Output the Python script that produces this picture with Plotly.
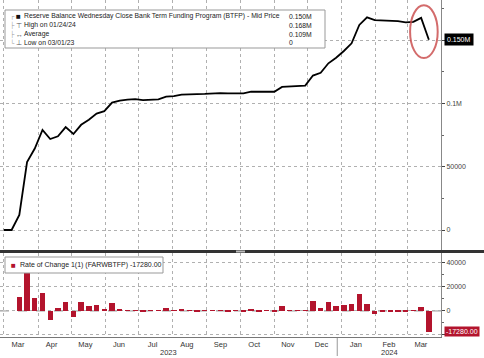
import plotly.graph_objects as go

# ---------------- data ----------------
dates = [
    "2023-03-01", "2023-03-08", "2023-03-15", "2023-03-22", "2023-03-29",
    "2023-04-05", "2023-04-12", "2023-04-19", "2023-04-26",
    "2023-05-03", "2023-05-10", "2023-05-17", "2023-05-24", "2023-05-31",
    "2023-06-07", "2023-06-14", "2023-06-21", "2023-06-28",
    "2023-07-05", "2023-07-12", "2023-07-19", "2023-07-26",
    "2023-08-02", "2023-08-09", "2023-08-16", "2023-08-23", "2023-08-30",
    "2023-09-06", "2023-09-13", "2023-09-20", "2023-09-27",
    "2023-10-04", "2023-10-11", "2023-10-18", "2023-10-25",
    "2023-11-01", "2023-11-08", "2023-11-15", "2023-11-22", "2023-11-29",
    "2023-12-06", "2023-12-13", "2023-12-20", "2023-12-27",
    "2024-01-03", "2024-01-10", "2024-01-17", "2024-01-24", "2024-01-31",
    "2024-02-07", "2024-02-14", "2024-02-21", "2024-02-28",
    "2024-03-06", "2024-03-13", "2024-03-20",
]
btfp = [
    0, 0, 11943, 53669, 64403,
    79022, 71837, 73980, 81279,
    75840, 83106, 87171, 91985, 93918,
    100645, 102150, 102950, 103400,
    102600, 102900, 103200, 105300,
    105800, 107000, 107400, 107350, 107500,
    107950, 108100, 108000, 108050,
    108000, 109300, 109200, 109300,
    109200, 113000, 113300, 114000, 114100,
    122000, 124200, 131700, 136100,
    141400, 147500, 162000, 168000, 165800,
    165500, 165300, 165000, 164100,
    164400, 167580, 150300,
]
# weekly rate of change (1 period) of the series
roc_dates = dates[1:]
roc = [b - a for a, b in zip(btfp[:-1], btfp[1:])]

top_tickvals = [0, 50000, 100000, 150000]
top_ticktext = ["0", "50000", "0.1M", ""]
bot_tickvals = [-20000, 0, 20000, 40000]
bot_ticktext = ["", "0", "20000", "40000"]

legend_rows = [
    "Reserve Balance Wednesday Close Bank Term Funding Program (BTFP) - Mid Price",
    "High on 01/24/24",
    "Average",
    "Low on 03/01/23",
]
legend_vals = ["0.150M", "0.168M", "0.109M", "0"]
roc_label = "Rate of Change 1(1) (FARWBTFP) -17280.00"

# ---------------- layout geometry ----------------
W, H = 484, 358
ML, MR, MT, MB = 0, 43, 0, 21
PW, PH = W - ML - MR, H - MT - MB


def px(x):
    return x / PW


def py(y):
    return (PH - y) / PH


FONT = "Liberation Sans"
GRID = "#b0b0b0"
RED = "#b3142d"

fig = go.Figure()
fig.add_trace(go.Scatter(x=dates, y=btfp, mode="lines",
                         line=dict(color="black", width=1.8),
                         xaxis="x", yaxis="y", showlegend=False))
fig.add_trace(go.Bar(x=roc_dates, y=roc, marker=dict(color=RED, line=dict(width=0)),
                     width=4.8 * 86400000, xaxis="x2", yaxis="y2", showlegend=False))

xrange = ["2023-02-25 12:00", "2024-03-31"]
common_x = dict(type="date", range=xrange, dtick="M1", tick0="2023-03-01",
                showgrid=True, gridcolor=GRID, griddash="dot", gridwidth=1,
                zeroline=False)

fig.update_layout(
    width=W, height=H, margin=dict(l=ML, r=MR, t=MT, b=MB),
    paper_bgcolor="white", plot_bgcolor="white",
    font=dict(family=FONT, size=7, color="#333"),
    bargap=0,
    xaxis=dict(domain=[0, 1], anchor="y", showticklabels=False, ticks="",
               **common_x),
    xaxis2=dict(domain=[0, 1], anchor="y2", matches="x", ticks="",
                tickformat="%b", ticklabelmode="period", ticklabelshift=-3,
                tickfont=dict(size=7.5, color="#333"),
                showline=True, linecolor="#777", linewidth=1,
                **common_x),
    yaxis=dict(domain=[py(250), 1], anchor="x", side="right",
               range=[-15800, 181700], tickmode="array",
               tickvals=top_tickvals, ticktext=top_ticktext,
               showgrid=True, gridcolor=GRID, griddash="dot", zeroline=False,
               ticks="outside", ticklen=3, tickcolor="#444",
               minor=dict(dtick=25000, ticks="outside", ticklen=2, tickcolor="#666",
                          showgrid=False),
               showline=True, linecolor="#888", linewidth=1,
               tickfont=dict(size=7, color="#444")),
    yaxis2=dict(domain=[0, py(253)], anchor="x2", side="right",
                range=[-21700, 48300], tickmode="array",
                tickvals=bot_tickvals, ticktext=bot_ticktext,
                showgrid=True, gridcolor=GRID, griddash="dot", zeroline=False,
                ticks="outside", ticklen=3, tickcolor="#444",
                minor=dict(dtick=10000, ticks="outside", ticklen=2, tickcolor="#666",
                           showgrid=False),
                showline=True, linecolor="#888", linewidth=1,
                tickfont=dict(size=7, color="#444")),
)

shapes = []
# dashed zero line in lower panel
shapes.append(dict(type="line", xref="x2 domain", yref="y2", x0=0, x1=1, y0=0, y1=0,
                   line=dict(color="#999", width=1, dash="dash"), layer="below"))
# panel separator
shapes.append(dict(type="line", xref="paper", yref="paper", x0=0, x1=W / PW,
                   y0=py(251.5), y1=py(251.5), line=dict(color="#333", width=3)))
shapes.append(dict(type="rect", xref="paper", yref="paper", x0=px(236), x1=px(245),
                   y0=py(250.5), y1=py(252.5), fillcolor="#bbb", line=dict(width=0)))
# year divider
shapes.append(dict(type="line", xref="x2", yref="paper", x0="2023-12-28", x1="2023-12-28",
                   y0=py(338), y1=py(356), line=dict(color="#999", width=1)))
# legend boxes
shapes.append(dict(type="rect", xref="paper", yref="paper", x0=px(5), x1=px(325),
                   y0=py(48), y1=py(10), fillcolor="white",
                   line=dict(color="#999", width=1), layer="above"))
shapes.append(dict(type="rect", xref="paper", yref="paper", x0=px(5), x1=px(163),
                   y0=py(273), y1=py(257), fillcolor="white",
                   line=dict(color="#999", width=1), layer="above"))
# highlight ellipse
shapes.append(dict(type="circle", xref="x", yref="y", x0="2024-03-03", x1="2024-03-28",
                   y0=135800, y1=177600, line=dict(color="rgba(200,70,70,0.8)", width=2)))
fig.update_layout(shapes=shapes)

ann = []


def label(text, x, y, size=7, color="#222", xanchor="left", **kw):
    ann.append(dict(text=text, xref="paper", yref="paper", x=px(x), y=py(y),
                    xanchor=xanchor, yanchor="middle", showarrow=False,
                    font=dict(family=FONT, size=size, color=color), **kw))


row_y = [16.5, 25.3, 34.1, 42.9]
symbols = ["■", "⊤", "↔", "⊥"]
tree = ["┌", "├", "├", "└"]
for i in range(4):
    label(tree[i], 8, row_y[i], size=6, color="#999")
    label(symbols[i], 14, row_y[i], size=7 if i else 8, color="#111" if i == 0 else "#555")
    label(legend_rows[i], 22, row_y[i], size=6.8)
    label(legend_vals[i], 287, row_y[i], size=6.8)

label("■", 9, 265, size=8, color=RED)
label(roc_label, 18, 265, size=7)

label("2023", 168, 352, size=7.5, color="#333", xanchor="center")
label("2024", 389, 352, size=7.5, color="#333", xanchor="center")

# last value tags on the right axis
ann.append(dict(text="0.150M", xref="paper", yref="y", x=1, y=btfp[-1],
                xanchor="left", yanchor="middle", xshift=3, showarrow=False,
                bgcolor="black", font=dict(family=FONT, size=7, color="white"),
                borderpad=2))
ann.append(dict(text="-17280.00", xref="paper", yref="y2", x=1, y=roc[-1],
                xanchor="left", yanchor="middle", xshift=3, showarrow=False,
                bgcolor=RED, font=dict(family=FONT, size=7, color="white"),
                borderpad=1))
fig.update_layout(annotations=ann)

fig.write_html("out.html", config={"displayModeBar": False},
               post_script="document.body.style.margin='0';document.body.style.overflow='hidden';")
